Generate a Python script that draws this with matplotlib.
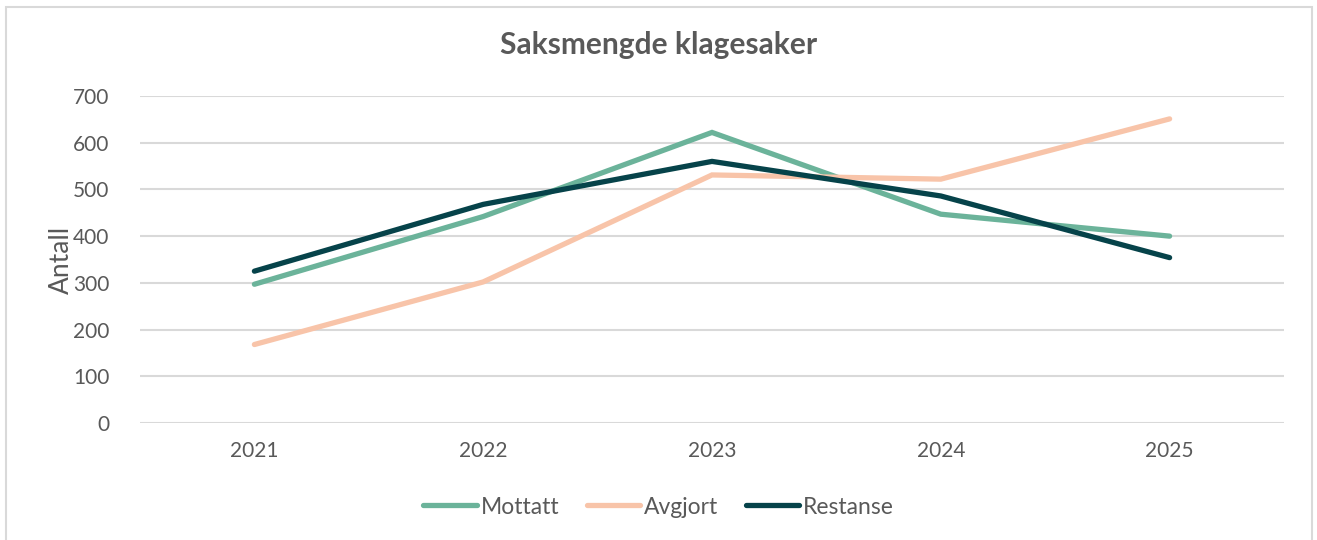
import matplotlib.pyplot as plt
from matplotlib.patches import Rectangle

# data
years = ['2021', '2022', '2023', '2024', '2025']
mottatt = [297, 442, 622, 447, 400]
avgjort = [168, 302, 531, 522, 651]
restanse = [325, 468, 560, 486, 354]

plt.rcParams['font.family'] = ['Lato', 'DejaVu Sans']
grey = '#595959'

fig = plt.figure(figsize=(13.17, 5.4), dpi=100)
ax = fig.add_axes([140 / 1317, 117 / 540, 1144 / 1317, 327 / 540])

x = range(len(years))
ax.plot(x, mottatt, color='#6bb39a', lw=3.8, solid_capstyle='round', solid_joinstyle='miter', label='Mottatt')
ax.plot(x, avgjort, color='#f8c4a9', lw=3.8, solid_capstyle='round', solid_joinstyle='miter', label='Avgjort')
ax.plot(x, restanse, color='#06434a', lw=3.8, solid_capstyle='round', solid_joinstyle='miter', label='Restanse')

ax.set_xlim(-0.5, len(years) - 0.5)
ax.set_ylim(0, 700)
ax.set_yticks(range(0, 701, 100))
ax.set_xticks(list(x))
ax.set_xticklabels(years)
ax.grid(axis='y', color='#d9d9d9', lw=1.5)
ax.set_axisbelow(True)
for s in ax.spines.values():
    s.set_visible(False)
ax.tick_params(length=0, labelsize=15, colors=grey)
ax.tick_params(axis='y', pad=22)
ax.tick_params(axis='x', pad=13)
ax.set_ylabel('Antall', fontsize=19, color=grey)
ax.yaxis.set_label_coords(-0.058, 0.5)

fig.text(0.5, 1 - 45 / 540, 'Saksmengde klagesaker', ha='center', va='center',
         fontsize=21.5, fontweight='bold', color=grey)

fig.legend(*ax.get_legend_handles_labels(), loc='center',
           bbox_to_anchor=(0.5, 1 - 507 / 540), ncol=3, frameon=False,
           fontsize=16.5, labelcolor=grey, handlelength=2.35, handletextpad=0.15,
           columnspacing=1.2)

# chart border
fig.patches.append(Rectangle((6 / 1317, -0.01), 1306 / 1317, 1 - 7 / 540 + 0.01,
                             transform=fig.transFigure, fill=False,
                             edgecolor='#d9d9d9', lw=1.5))

fig.savefig('out.png', dpi=100)
